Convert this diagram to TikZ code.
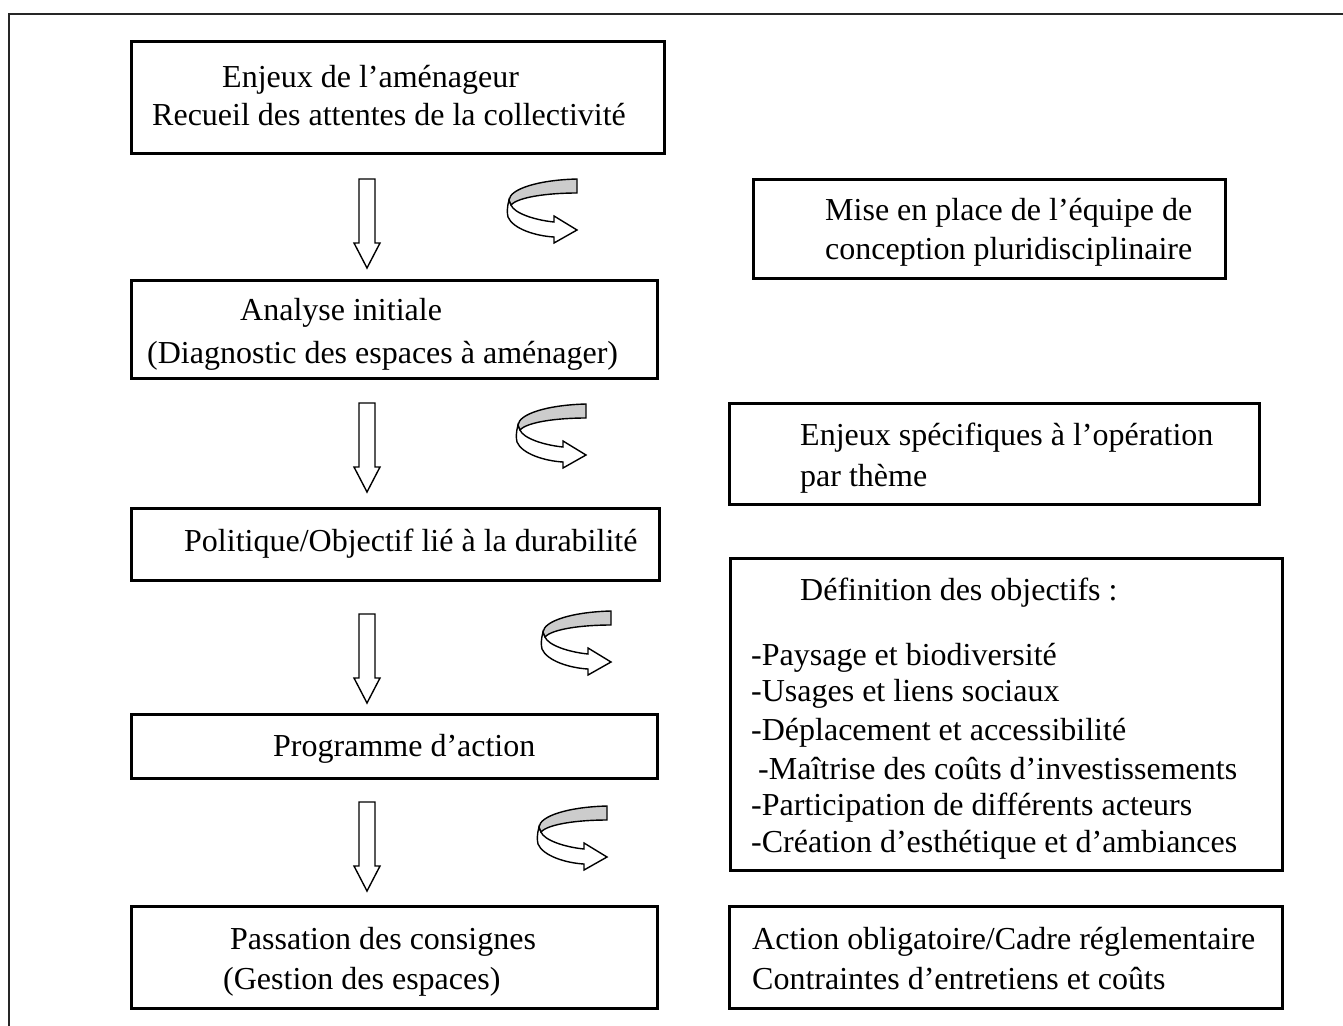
\documentclass[tikz,border=0pt]{standalone}
\usepackage{fontspec}
\setmainfont{Liberation Serif}

\tikzset{
	box/.style={draw, line width=3pt, inner sep=0pt},
	txt/.style={anchor=base west, inner sep=0pt, font=\fontsize{32}{38}\selectfont},
	downarrow/.pic={
		\draw [line width=1.4pt, fill=white] (-8,0) -- (8,0) -- (8,64) -- (13,64) -- (0,89) -- (-13,64) -- (-8,64) -- cycle;
	},
	turnarrow/.pic={
		\draw [line width=1.4pt, fill=white] (1,21) .. controls (-1,28) and (-1,34) .. (0,38) .. controls (5,50) and (28,57) .. (46,58) -- (46,64) -- (69,51) -- (46,37) -- (46,43) .. controls (26,41) and (6,34) .. (3,26) -- cycle;
		\draw [line width=1.4pt, fill=gray!40] (69,0) .. controls (30,1) and (2,10) .. (1,21) -- (3,26) .. controls (10,18) and (40,14) .. (69,14) -- cycle;
	}
}

\begin{document}
\begin{tikzpicture}[x=1pt, y=-1pt]
	\useasboundingbox (0,0) rectangle (1343,1025);
	\draw [line width=2pt, black!85] (9,1030) -- (9,14) -- (1350,14);

	% left column
	\node [box, minimum width=533pt, minimum height=111pt] (enjeux) at (397.5,97.5) {};
	\node [txt] (enjeuxA) at (222,88) {Enjeux de l’aménageur};
	\node [txt] (enjeuxB) at (152,125) {Recueil des attentes de la collectivité};

	\node [box, minimum width=526pt, minimum height=98pt] (analyse) at (394,329) {};
	\node [txt] (analyseA) at (240,320) {Analyse initiale};
	\node [txt] (analyseB) at (147,363) {(Diagnostic des espaces à aménager)};

	\node [box, minimum width=528pt, minimum height=72pt] (politique) at (395,544) {};
	\node [txt] (politiqueA) at (184,551) {Politique/Objectif lié à la durabilité};

	\node [box, minimum width=526pt, minimum height=64pt] (programme) at (394,746) {};
	\node [txt] (programmeA) at (273,756) {Programme d’action};

	\node [box, minimum width=526pt, minimum height=102pt] (passation) at (394,957) {};
	\node [txt] (passationA) at (230,949) {Passation des consignes};
	\node [txt] (passationB) at (223,989) {(Gestion des espaces)};

	% right column
	\node [box, minimum width=472pt, minimum height=99pt] (equipe) at (989,228.5) {};
	\node [txt] (equipeA) at (825,220) {Mise en place de l’équipe de};
	\node [txt] (equipeB) at (825,259) {conception pluridisciplinaire};

	\node [box, minimum width=530pt, minimum height=101pt] (theme) at (994,453.5) {};
	\node [txt] (themeA) at (800,445) {Enjeux spécifiques à l’opération};
	\node [txt] (themeB) at (800,486) {par thème};

	\node [box, minimum width=552pt, minimum height=312pt] (objectifs) at (1006,714) {};
	\node [txt] (objA) at (800,600) {Définition des objectifs :};
	\node [txt] (objB) at (751,665) {-Paysage et biodiversité};
	\node [txt] (objC) at (751,701) {-Usages et liens sociaux};
	\node [txt] (objD) at (751,740) {-Déplacement et accessibilité};
	\node [txt] (objE) at (758,779) {-Maîtrise des coûts d’investissements};
	\node [txt] (objF) at (751,815) {-Participation de différents acteurs};
	\node [txt] (objG) at (751,852) {-Création d’esthétique et d’ambiances};

	\node [box, minimum width=553pt, minimum height=102pt] (cadre) at (1005.5,957) {};
	\node [txt] (cadreA) at (752,949) {Action obligatoire/Cadre réglementaire};
	\node [txt] (cadreB) at (752,989) {Contraintes d’entretiens et coûts};

	% arrows
	\pic at (367,179) {downarrow};
	\pic at (367,403) {downarrow};
	\pic at (367,614) {downarrow};
	\pic at (367,802) {downarrow};
	\pic at (508,179) {turnarrow};
	\pic at (517,404) {turnarrow};
	\pic at (542,611) {turnarrow};
	\pic at (538,806) {turnarrow};
\end{tikzpicture}
\end{document}
